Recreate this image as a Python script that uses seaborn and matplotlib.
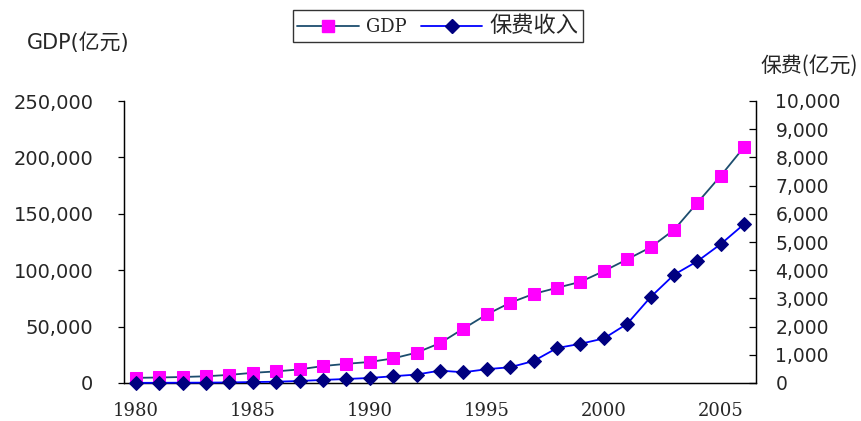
import matplotlib
matplotlib.use("Agg")
import matplotlib.pyplot as plt
from matplotlib.lines import Line2D
from matplotlib.ticker import FuncFormatter, MultipleLocator, FixedLocator
import seaborn as sns
import pandas as pd

years = list(range(1980, 2007))
gdp = [4546, 4892, 5323, 5963, 7208, 9016, 10275, 12059, 15043, 16992,
       18668, 21781, 26923, 35334, 48198, 60794, 71177, 78973, 84402, 89677,
       99215, 109655, 120333, 135823, 159878, 183868, 209407]
premium = [4.6, 7.8, 10.3, 13.2, 20.0, 33.1, 45.8, 71.0, 109.5, 142.4,
           178.5, 239.7, 300.0, 440.0, 380.0, 490.0, 560.0, 780.0, 1240.0, 1390.0,
           1580.0, 2100.0, 3050.0, 3840.0, 4320.0, 4930.0, 5640.0]
label_years = [1980, 1985, 1990, 1995, 2000, 2005]

gdp_label = "GDP"
prem_label = "保费收入"
left_title = "GDP(亿元)"
right_title = "保费(亿元)"

df = pd.DataFrame({"year": years, "gdp": gdp, "premium": premium})

sns.set_style("white")
plt.rcParams["font.family"] = ["DejaVu Sans", "Noto Sans CJK SC"]

fig = plt.figure(figsize=(8.61, 4.21), dpi=100)
ax = fig.add_axes([124 / 861, 1 - 383 / 421, (756 - 124) / 861, (383 - 101) / 421])
ax2 = ax.twinx()

gdp_line = "#1c4d6e"
gdp_marker = "#ff00ff"
prem_line = "#0000ff"
prem_marker = "#000080"

sns.lineplot(data=df, x="year", y="gdp", ax=ax, color=gdp_line, lw=1.3,
             marker="s", markersize=8, markerfacecolor=gdp_marker,
             markeredgecolor=gdp_marker, clip_on=False, zorder=3)
sns.lineplot(data=df, x="year", y="premium", ax=ax2, color=prem_line, lw=1.3,
             marker="D", markersize=7.5, markerfacecolor=prem_marker,
             markeredgecolor=prem_marker, clip_on=False, zorder=3)

ax.set_xlim(1979.5, 2006.5)
ax.set_ylim(0, 250000)
ax2.set_ylim(0, 10000)

comma = FuncFormatter(lambda v, p: f"{int(v):,}")
ax.yaxis.set_major_locator(MultipleLocator(50000))
ax.yaxis.set_major_formatter(comma)
ax2.yaxis.set_major_locator(MultipleLocator(1000))
ax2.yaxis.set_major_formatter(comma)

ax.xaxis.set_major_locator(FixedLocator(label_years))
ax.xaxis.set_minor_locator(FixedLocator([y + 0.5 for y in range(1979, 2007)]))
ax.tick_params(axis="x", which="major", length=0, pad=14)
ax.tick_params(axis="x", which="minor", direction="in", length=5, width=0.9, color="black")
for t in ax.get_xticklabels():
    t.set_fontfamily("DejaVu Serif")
    t.set_fontsize(13)

ax.tick_params(axis="y", direction="out", length=4, width=0.9, color="black",
               labelsize=14, pad=18, left=True)
ax2.tick_params(axis="y", direction="in", length=5, width=0.9, color="black",
                labelsize=13.5, pad=14, right=True)

for a in (ax, ax2):
    a.set_xlabel("")
    a.set_ylabel("")
    a.grid(False)
    a.spines["top"].set_visible(False)
    for s in ("left", "right", "bottom"):
        a.spines[s].set_color("black")
        a.spines[s].set_linewidth(0.9)
    a.spines["left"].set_visible(True)
    a.spines["right"].set_visible(True)

fig.text(27 / 861, 1 - 43 / 421, left_title, fontsize=15, ha="left", va="center",
         family=["DejaVu Sans", "Noto Sans CJK SC"])
fig.text(858 / 861, 1 - 66 / 421, right_title, fontsize=15, ha="right", va="center",
         family=["Noto Sans CJK SC", "DejaVu Sans"])

handles = [
    Line2D([], [], color=gdp_line, lw=1.3, marker="s", markersize=8,
           markerfacecolor=gdp_marker, markeredgecolor=gdp_marker),
    Line2D([], [], color=prem_line, lw=1.3, marker="D", markersize=7.5,
           markerfacecolor=prem_marker, markeredgecolor=prem_marker),
]
leg = fig.legend(handles, [gdp_label, prem_label], loc="center",
                 bbox_to_anchor=(438 / 861, 1 - 26 / 421), ncol=2, frameon=True,
                 fancybox=False, handlelength=3.4, handletextpad=0.4,
                 columnspacing=0.8, borderpad=0.25,
                 prop={"family": ["DejaVu Serif", "Noto Sans CJK SC"], "size": 13})
leg.get_texts()[1].set_fontsize(16)
leg.get_frame().set_edgecolor("black")
leg.get_frame().set_linewidth(1.0)

fig.savefig("out.png", dpi=100)
